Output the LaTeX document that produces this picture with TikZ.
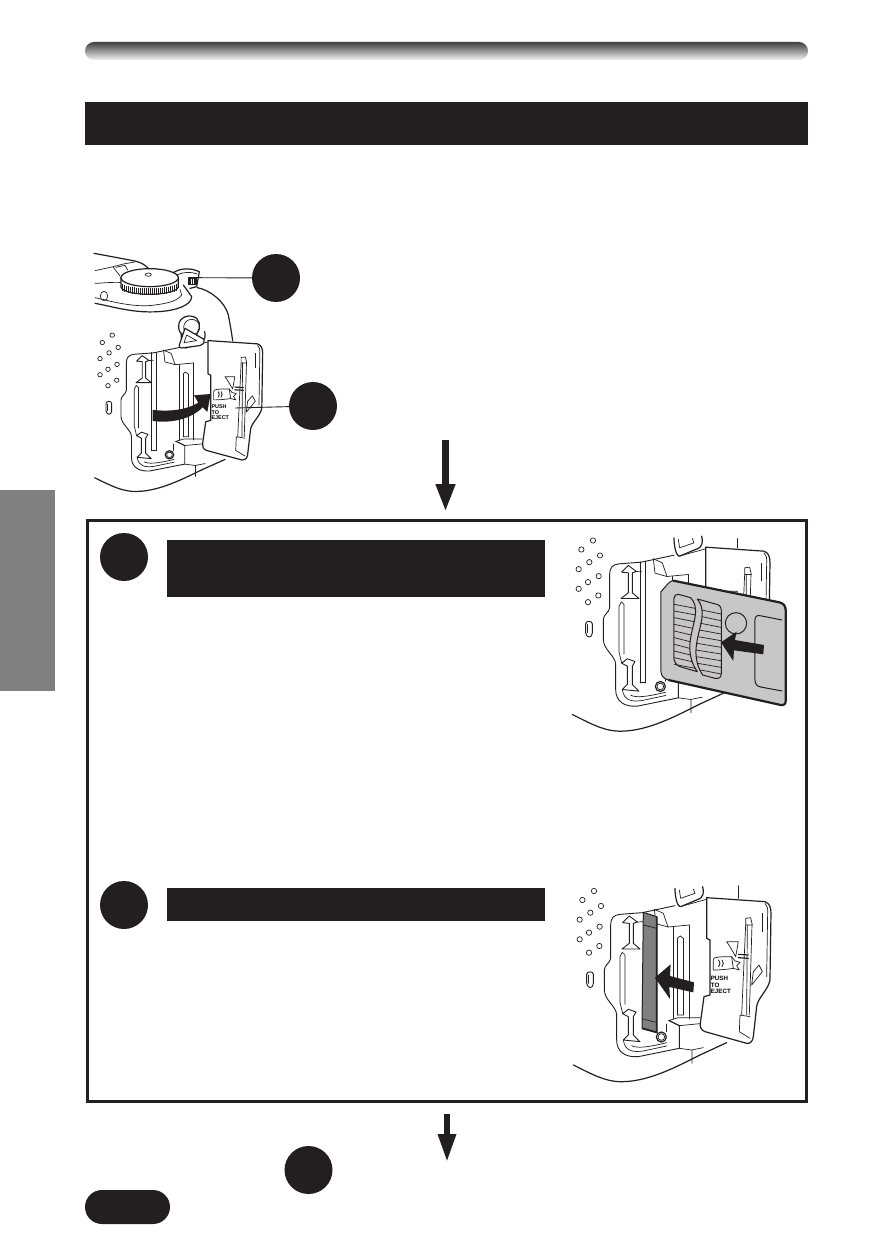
\documentclass[tikz,border=0pt]{standalone}
\usepackage{fontspec}
\setsansfont{Liberation Sans}
\usetikzlibrary{arrows.meta}
\definecolor{ink}{HTML}{231F20}
\tikzset{
  cl/.style={draw=ink,line width=0.7pt,line join=round,line cap=round},
  cb/.style={draw=ink,line width=1.2pt,line join=round,line cap=round},
  cmid/.style={draw=ink,line width=0.9pt,line join=round,line cap=round},
  numdot/.style={circle,fill=ink,minimum size=48pt,inner sep=0pt},
  leader/.style={draw=ink,line width=0.9pt},
  bar/.style={fill=ink},
  bigarrow/.style={draw=ink,line width=7pt,-{Triangle[length=28pt,width=18pt]}},
  smallarrow/.style={draw=ink,line width=6pt,-{Triangle[length=28pt,width=17pt]}}
}
% left part of the camera, in 3x units
\newcommand{\camleft}{%
  \foreach \p/\q in {102/48,67/75,123/93,91/113,59/134,119/155,87/173,59/193,118/213,87/233}
    \draw[cl] (\p,\q) circle [radius=8];
  \draw[cmid] (80,298) .. controls (80,288) and (100,288) .. (100,298) -- (100,325) .. controls (100,342) and (82,342) .. (80,325) -- cycle;
  \draw[cl] (86,300) -- (86,325);
  % slot outline
  \draw[cmid] (345,92) -- (247,113) -- (180,118) .. controls (160,120) and (152,130) .. (152,150) -- (152,250)
    .. controls (150,265) and (133,270) .. (133,285) -- (133,345) .. controls (133,375) and (170,395) .. (170,420)
    -- (170,495) .. controls (170,530) and (195,548) .. (235,545) -- (358,520) -- (358,452) -- (328,437);
  % notches
  \draw[cmid] (188,143) -- (208,123) -- (232,141) -- (220,145) -- (220,205) -- (240,222) -- (186,222) -- (208,205) -- (208,145) -- cycle;
  \draw[cl] (232,141) -- (248,140);
  \draw[cmid] (188,416) -- (205,403) -- (228,411) -- (220,425) -- (220,480) -- (240,500) -- (190,495) -- (205,480) -- (205,425) -- cycle;
  \draw[cl] (180,245) -- (187,232) -- (195,240) -- (195,388) (180,245) -- (180,382) -- (188,416);
  \draw[cl] (190,495) .. controls (195,530) and (220,532) .. (250,528) -- (320,513);
  \draw[cl] (215,512) .. controls (230,520) and (260,518) .. (320,503);
  % upper block
  \draw[cl] (283,103) -- (310,115) -- (324,156) -- (388,150);
  \draw[cl] (283,103) -- (288,146) -- (324,156);
  \draw[cl] (340,156) -- (340,432) (352,190) -- (352,420) (370,190) -- (370,420) (387,150) -- (387,432);
  \draw[cl] (352,190) -- (361,183) -- (370,190) (352,420) -- (370,420);
  % lower block
  \draw[cl] (325,437) -- (355,428) -- (420,428) (328,437) -- (358,452) -- (430,445);
  \draw[cb] (304,486) circle [radius=15];
  \draw[cl] (304,486) circle [radius=10];
  \draw[cl] (318,447) -- (318,470);
  % strap
  \draw[cb] (345,40) .. controls (345,60) and (350,95) .. (362,95) -- (412,74) .. controls (432,68) and (432,50) .. (428,35);
  \draw[cl] (362,70) -- (405,55) -- (400,42) (362,70) -- (358,45);
  \draw[cl] (360,95) -- (440,73);
  % lower body
  \draw[cb] (40,570) .. controls (100,600) and (140,622) .. (190,620) .. controls (270,618) and (350,575) .. (420,540) -- (500,503);
  \draw[cl] (396,525) -- (396,565) (358,520) -- (395,525) -- (430,518);
}
% the door; #1 name suffix, #2 label size
\newcommand{\camdoor}[2]{%
  \draw[cb,fill=white] (440,68) -- (615,80) .. controls (628,85) and (633,95) .. (633,115) -- (630,315)
    .. controls (625,345) and (592,370) .. (590,395) -- (580,485) .. controls (578,500) and (570,507) .. (560,505)
    -- (435,470) .. controls (422,465) and (420,455) .. (421,445) -- (432,365) -- (450,360) -- (450,195) -- (440,190) -- cycle;
  \draw[cl] (615,85) .. controls (622,92) and (624,100) .. (623,115) -- (620,305);
  \fill[ink] (605,115) -- (610,115) -- (610,170) -- (605,170) -- cycle;
  % the pin
  \draw[cl] (557,130) -- (572,128) -- (577,150) -- (557,150) -- cycle;
  \draw[cl] (557,150) -- (545,420) (562,150) -- (560,420) (576,150) -- (568,420);
  \draw[cl] (540,420) -- (570,425) (540,420) -- (538,470) -- (570,490);
  \draw[cl] (500,200) -- (535,200) -- (527,245) -- (510,215) -- cycle;
  \draw[cb] (535,238) -- (565,240) (535,248) -- (565,250);
  \draw[cl] (460,255) .. controls (455,245) and (490,245) .. (515,245) -- (520,280) .. controls (490,285) and (465,285) .. (460,285) -- cycle;
  \draw[cl] (515,245) -- (525,258) -- (540,262) -- (530,272) -- (538,285) -- (520,280);
  \draw[cmid] (476,255) -- (480,265) -- (476,275) (486,255) -- (490,265) -- (486,275);
  \draw[cl] (575,330) -- (580,290) -- (597,270) -- (607,290) -- cycle;
  \node[anchor=west,align=left,inner sep=0pt,font=\sffamily\bfseries\fontsize{#2}{#2}\selectfont] (push#1) at (452,330) {PUSH\\TO\\EJECT};
}
\begin{document}
\begin{tikzpicture}[x=1pt,y=-1pt]
\useasboundingbox (0,0) rectangle (891,1257);
\fill[white] (0,0) rectangle (891,1257);
% page furniture
\shade[top color=black!75,bottom color=black!5,rounded corners=9pt] (85,42) rectangle (808,60);
\fill[bar] (85,102) rectangle (808,145);
\fill[black!50] (0,490) rectangle (55,691);
\draw[ink,line width=3pt] (87,520.5) rectangle (806,1101);
\fill[bar] (167,540) rectangle (545,597);
\fill[bar] (167,888) rectangle (545,921);
\fill[bar,rounded corners=17pt] (85,1190) rectangle (170,1224);
% number discs
\node[numdot] (n1) at (276,278) {};
\node[numdot] (n2) at (313,406) {};
\node[numdot] (n3) at (124,557) {};
\node[numdot] (n4) at (124,905) {};
\node[numdot] (n5) at (308.5,1170) {};
% flow arrows
\coordinate (a1) at (445.5,440);
\coordinate (a2) at (445.5,512);
\coordinate (b1) at (447,1114);
\coordinate (b2) at (447,1162);
\draw[bigarrow] (a1) -- (a2);
\draw[smallarrow] (b1) -- (b2);

% ---------- first camera
\begin{scope}[shift={(83.33,322)},x=0.2833pt,y=-0.2733pt]
  \camleft
  \draw[cmid] (240,112) -- (240,470) (257,112) -- (257,470) (240,470) -- (257,470);
  \camdoor{A}{5.4}
\end{scope}
\begin{scope}[shift={(80,240)},x=0.3333pt,y=-0.3333pt]
  % top of the camera
  \draw[cb] (42,40) -- (165,63) .. controls (185,68) and (195,75) .. (205,85);
  \draw[cl] (45,92) -- (100,80) -- (130,72) -- (165,66);
  \draw[cl] (100,82) -- (120,108) (108,82) -- (135,76) -- (143,90);
  \draw[cl] (45,130) .. controls (60,130) and (105,125) .. (125,128);
  \draw[cl] (72,168) circle [x radius=11,y radius=14];
  \draw[cl] (45,173) .. controls (80,180) and (160,205) .. (225,195) .. controls (260,190) and (290,185) .. (305,165) -- (300,148);
  \draw[cb] (45,190) .. controls (100,200) and (160,220) .. (235,215) .. controls (290,212) and (335,195) .. (335,170) -- (310,135);
  % dial
  \draw[cb,fill=white] (123,112) -- (123,142) .. controls (135,170) and (280,170) .. (295,142) -- (295,112) -- cycle;
  \foreach \k in {128,134,...,290}
    \draw[ink,line width=1pt] (\k,{125+28*sqrt(1-((\k-209)/86)^2)*0.72}) -- (\k,{145+20*sqrt(1-((\k-209)/86)^2)});
  \draw[cb,fill=white] (209,113) ellipse [x radius=86,y radius=27];
  \draw[cl] (205,104) ellipse [x radius=9,y radius=5];
  % release
  \draw[cb] (280,98) .. controls (300,85) and (330,82) .. (358,95) -- (350,140) -- (330,145);
  \draw[cl] (290,105) .. controls (310,95) and (335,95) .. (352,102);
  \fill[ink] (325,110) rectangle (352,135);
  \draw[white,line width=0.5pt] (333,118) -- (333,133) (341,118) -- (341,133);
  \coordinate (rel) at (338,113);
  \draw[cb] (352,143) .. controls (390,150) and (435,185) .. (445,225) .. controls (450,250) and (455,280) .. (458,302);
  % strap lug
  \draw[cb,fill=white] (296,258) .. controls (296,230) and (330,220) .. (350,235) .. controls (365,250) and (360,280) .. (340,288) -- (310,285) .. controls (298,278) and (296,270) .. (296,258) -- cycle;
  \draw[cl] (335,262) circle [radius=24];
  \draw[cb,fill=white] (298,315) -- (315,265) -- (372,298) .. controls (376,310) and (365,318) .. (350,318) -- (306,324) .. controls (298,324) and (296,320) .. (298,315) -- cycle;
  \draw[cl] (312,308) -- (320,285) -- (350,302) -- cycle;
  % curved arrow
  \fill[ink] (218,510) .. controls (270,515) and (320,510) .. (355,488) -- (342,466) -- (392,462) -- (382,516) -- (368,502) .. controls (330,540) and (270,550) .. (218,543) -- cycle;
\end{scope}
\coordinate (l1) at (235,408);
\draw[leader] (rel) -- (n1);
\draw[leader] (l1) -- (n2);

% ---------- second camera, with the card
\begin{scope}[shift={(559,524.5)},x=0.3333pt,y=-0.3333pt]
  \camleft
  \draw[cmid] (243,112) -- (243,475) (258,110) -- (258,475) (243,475) -- (258,475);
  \draw[cl] (535,42) -- (535,70);
  \camdoor{B}{6.2}
\end{scope}
\begin{scope}[shift={(560,525)},x=0.3333pt,y=-0.3333pt]
  \draw[draw=ink,line width=1pt,fill=black!22,line join=round] (340,167) -- (658,232) .. controls (670,235) and (677,242) .. (677,255) -- (677,528) .. controls (677,538) and (672,541) .. (662,540) -- (325,465) .. controls (310,460) and (303,452) .. (303,440) -- (303,200) -- (325,175) .. controls (330,170) and (335,167) .. (340,167) -- cycle;
  \draw[ink,line width=2.2pt,line join=round] (340,167) -- (658,232) .. controls (670,235) and (677,242) .. (677,255) -- (677,528) .. controls (677,538) and (672,541) .. (662,540) -- (325,465);
  % grip
  \draw[cl,line width=1pt] (355,208) -- (392,218) .. controls (440,270) and (350,350) .. (412,440) -- (360,425) .. controls (348,420) and (342,410) .. (342,400) -- (342,220) .. controls (342,212) and (348,207) .. (355,208) -- cycle;
  \draw[cl,line width=1pt] (412,222) -- (470,238) .. controls (480,240) and (484,248) .. (484,258) -- (484,445) .. controls (484,458) and (476,462) .. (465,460) -- (428,450) .. controls (370,360) and (460,280) .. (412,222) -- cycle;
  \foreach \v/\a/\b in {0/405/425,1/407/426,2/403/422,3/398/418,4/393/414,5/390/411,6/389/408,7/391/408,8/396/413,9/406/422} {
    \draw[cl] (343,{238+\v*20}) -- (\a,{250+\v*20});
    \draw[cl] (\b,{255+\v*20}) -- (483,{267+\v*20});
  }
  \draw[cl,line width=1pt] (528,295) circle [radius=32];
  \draw[cl,line width=1pt] (666,285) -- (600,272) .. controls (590,270) and (585,275) .. (585,285) -- (585,465) .. controls (585,478) and (592,484) .. (602,486) -- (666,498);
  \fill[ink] (483,352) -- (530,320) -- (525,345) -- (612,360) -- (610,388) -- (522,376) -- (520,408) -- cycle;
\end{scope}

% ---------- third camera, with the closed slot
\begin{scope}[shift={(560,875)},x=0.3333pt,y=-0.3333pt]
  \camleft
  \draw[cl] (535,32) -- (535,70);
  \camdoor{C}{6.2}
  % card in the slot
  \draw[draw=ink,line width=1pt,fill=black!50,line join=round] (250,112) -- (290,125) -- (290,472) -- (246,460) -- cycle;
  \draw[ink,line width=1.8pt] (290,125) -- (290,472) -- (246,460);
  \draw[cl] (251,150) -- (289,160) (248,432) -- (289,442);
  \fill[ink] (285,308) -- (332,268) -- (330,303) -- (402,322) -- (400,352) -- (328,336) -- (330,372) -- cycle;
\end{scope}
\end{tikzpicture}
\end{document}
